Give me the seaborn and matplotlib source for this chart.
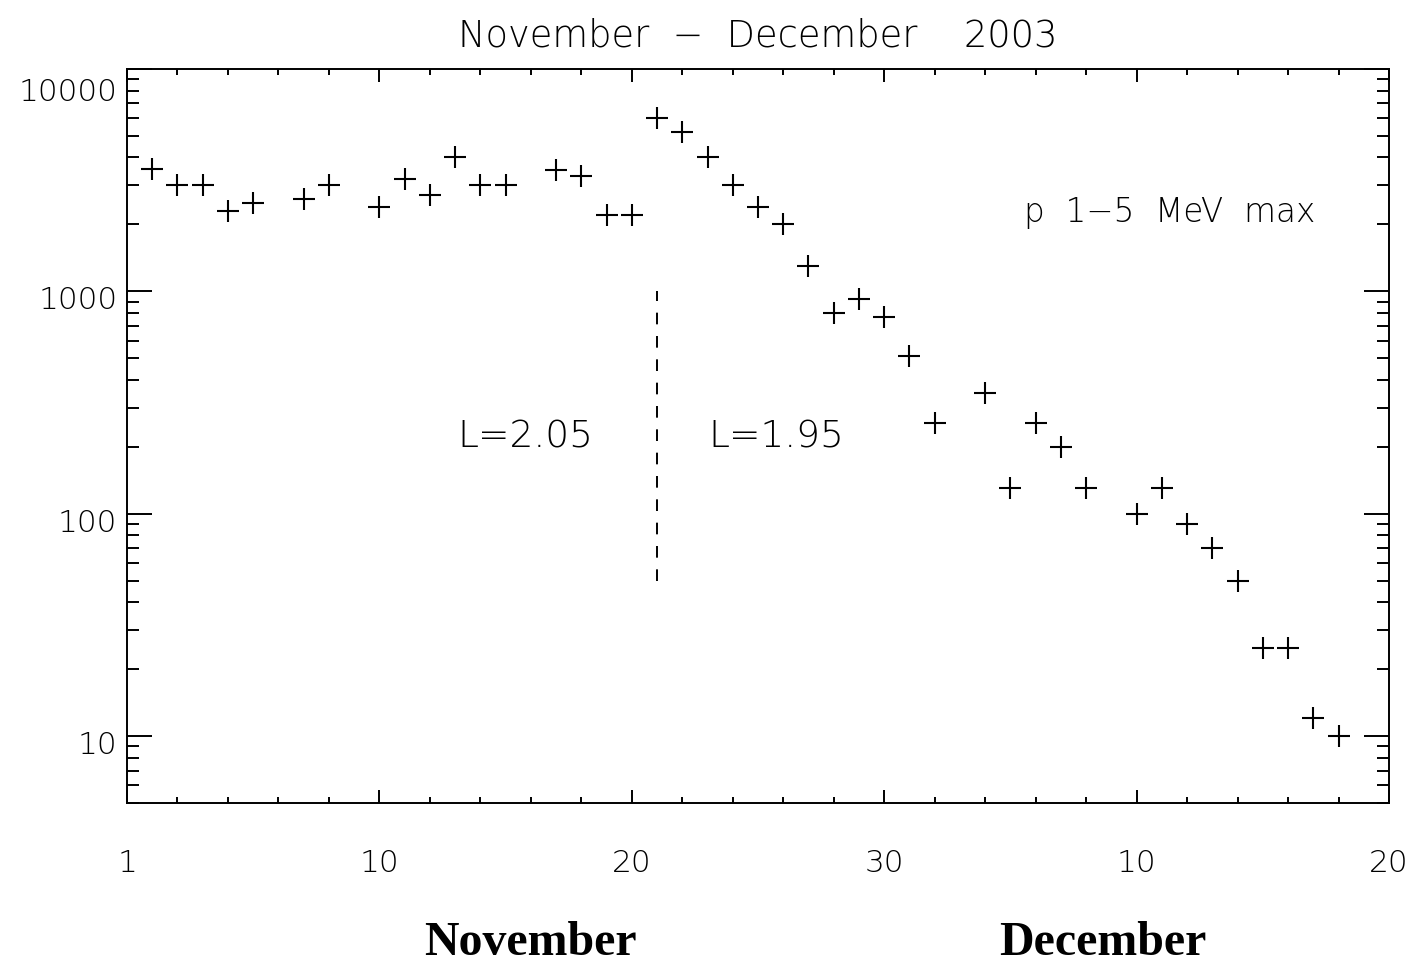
import matplotlib
matplotlib.use("Agg")
import matplotlib.pyplot as plt
import matplotlib.ticker as mticker
import matplotlib.transforms as mtransforms
import pandas as pd
import seaborn as sns

# Day number counted from 31 October 2003 (1 = 1 Nov, 31 = 1 Dec)
days = [1, 2, 3, 4, 5, 7, 8, 10, 11, 12, 13, 14, 15, 17, 18, 19, 20,
        21, 22, 23, 24, 25, 26, 27, 28, 29, 30, 31, 32, 34, 35, 36, 37, 38,
        40, 41, 42, 43, 44, 45, 46, 47, 48]
# Daily maximum of 1-5 MeV proton flux
flux = [3550, 3000, 3000, 2300, 2500, 2600, 3000, 2400, 3200, 2700, 4000,
        3000, 3000, 3500, 3300, 2200, 2200,
        6000, 5200, 4000, 3000, 2400, 2000, 1300, 800, 920, 770, 510, 255,
        350, 130, 255, 200, 130,
        100, 130, 90, 70, 50, 25, 25, 12, 10]

# Shell change marker (day, lower and upper flux)
shell_day = 21
shell_range = [50, 1000]

xtick_pos = [0, 10, 20, 30, 40, 50]
xtick_labels = ["1", "10", "20", "30", "10", "20"]
ytick_pos = [10, 100, 1000, 10000]
ytick_labels = ["10", "100", "1000", "10000"]

df = pd.DataFrame({"day": days, "flux": flux})

sns.set_style("white")
plt.rcParams["font.family"] = ["DejaVu Sans"]
plt.rcParams["text.color"] = "black"
plt.rcParams["xtick.color"] = "black"
plt.rcParams["ytick.color"] = "black"

fig = plt.figure(figsize=(14.17, 9.63), dpi=100)
ax = fig.add_axes([0.08963, 0.16615, 0.89061, 0.76220])

sns.scatterplot(data=df, x="day", y="flux", marker="+", s=256,
                color="black", linewidth=1.5, ax=ax, legend=False)

ax.set_yscale("log")
ax.set_xlim(0, 50)
ax.set_ylim(5, 10000)

# dashed separator between the two L-shells
ax.plot([shell_day, shell_day], shell_range, color="black", lw=1.4,
        linestyle=(0, (6, 6)))

lab_font = dict(family="DejaVu Sans", fontweight=200, color="black")
ax.text(15.77, 198, "L=2.05", ha="center", va="baseline", fontsize=27, **lab_font)
ax.text(25.73, 198, "L=1.95", ha="center", va="baseline", fontsize=27, **lab_font)
ax.text(41.32, 2054, "p  1\u22125  MeV  max", ha="center", va="baseline",
        fontsize=23.5, **lab_font)

ax.set_title("November  \u2212  December    2003", fontsize=26.5,
             fontweight=200, pad=16, color="black")

ax.set_xlabel("")
ax.set_ylabel("")

ax.set_xticks(xtick_pos, labels=xtick_labels)
ax.xaxis.set_minor_locator(mticker.MultipleLocator(2))
ax.set_yticks(ytick_pos, labels=ytick_labels)
ax.yaxis.set_minor_locator(mticker.LogLocator(base=10, subs=range(2, 10)))
ax.yaxis.set_minor_formatter(mticker.NullFormatter())

for lab in ax.get_xticklabels() + ax.get_yticklabels():
    lab.set_fontsize(22.5)
    lab.set_fontweight(200)
    lab.set_color("black")

ax.tick_params(which="both", direction="in", top=True, right=True,
               bottom=True, left=True, color="black", labelcolor="black",
               width=1.4)
ax.tick_params(axis="x", which="major", length=9.5, pad=33)
ax.tick_params(axis="x", which="minor", length=4.5)
ax.tick_params(axis="y", which="major", length=18, pad=7)
ax.tick_params(axis="y", which="minor", length=8.5)

for sp in ax.spines.values():
    sp.set_visible(True)
    sp.set_color("black")
    sp.set_linewidth(1.4)

fig.text(530 / 1417, 1 - 955 / 963, "November", ha="center", va="baseline",
         family="Liberation Serif", fontweight="bold", fontsize=34.5)
fig.text(1103 / 1417, 1 - 955 / 963, "December", ha="center", va="baseline",
         family="Liberation Serif", fontweight="bold", fontsize=34.5)

# shift the y labels slightly below their ticks, the top one further
fig.canvas.draw()
for tick in ax.yaxis.get_major_ticks():
    dy = -21 if tick.get_loc() >= 10000 else -6.5
    tick.label1.set_transform(
        tick.label1.get_transform()
        + mtransforms.ScaledTranslation(0, dy / fig.dpi, fig.dpi_scale_trans))

fig.savefig("out.png", dpi=100, facecolor="white")
